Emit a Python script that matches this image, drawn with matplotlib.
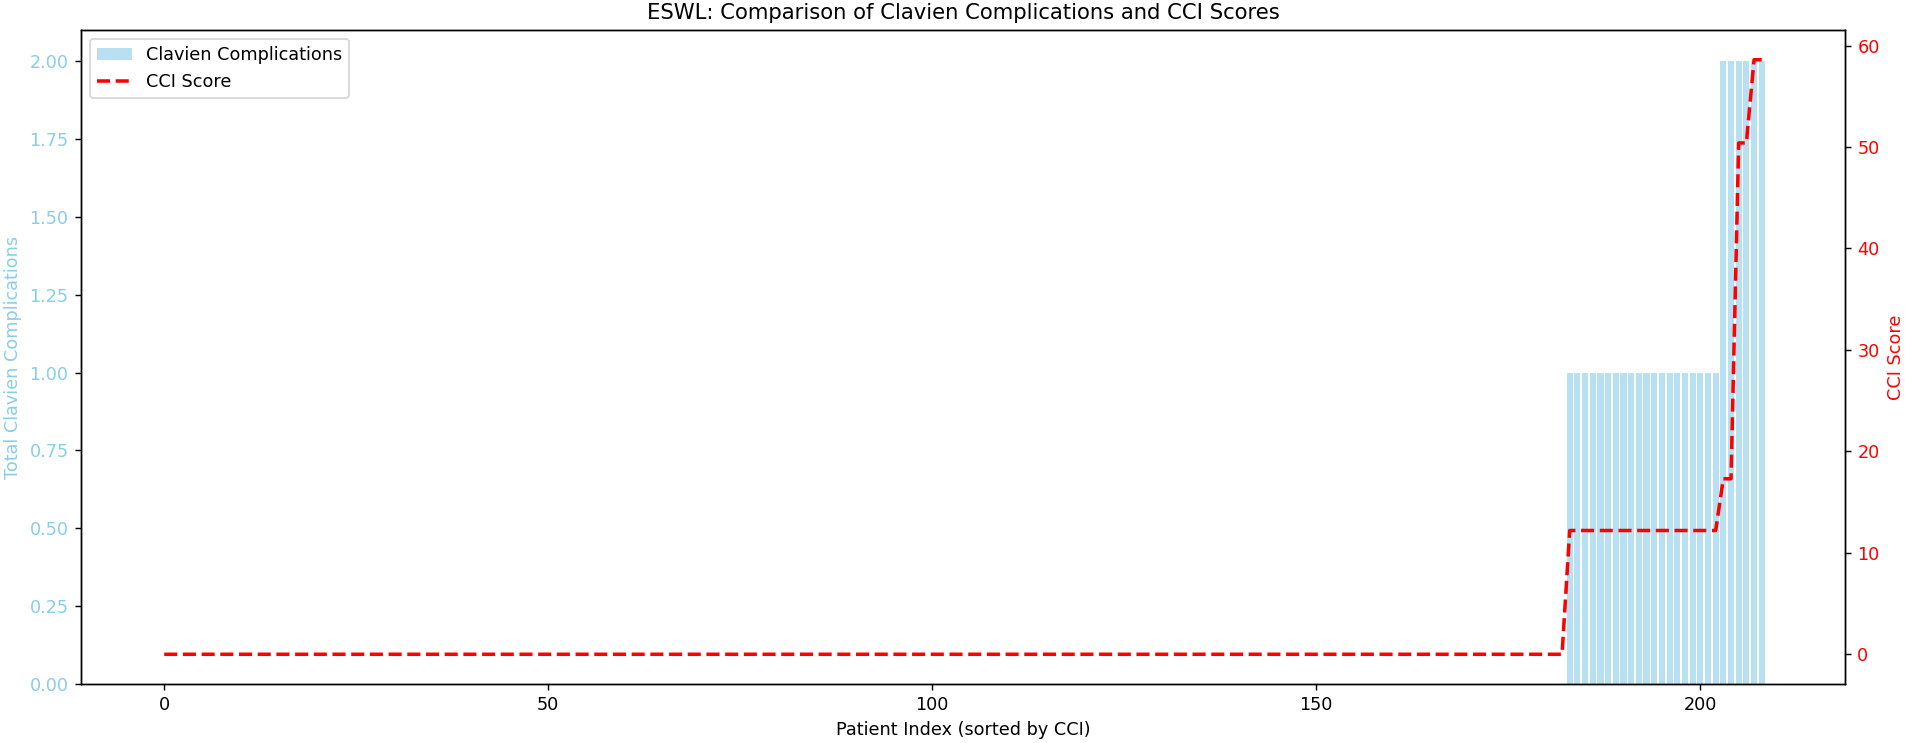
import numpy as np
import matplotlib
matplotlib.use("Agg")
import matplotlib.pyplot as plt

# Donnees (patients tries par CCI)
n_patients = 209
complication_groups = [(0, 183, 0), (183, 203, 1), (203, 209, 2)]  # (debut, fin, nb complications)
cci_groups = [(0, 183, 0.0), (183, 203, 12.2), (203, 205, 17.3), (205, 207, 50.4), (207, 209, 58.6)]

clavien_total = np.zeros(n_patients)
for a, b, v in complication_groups:
    clavien_total[a:b] = v
cci_score = np.zeros(n_patients)
for a, b, v in cci_groups:
    cci_score[a:b] = v
patient_idx = np.arange(n_patients)

fig = plt.figure(figsize=(1905 / 127, 743 / 127), dpi=127)
ax1 = fig.add_axes([0.0425, 0.0794, 0.926, 0.8802])

bars = ax1.bar(patient_idx, clavien_total, color="skyblue", alpha=0.6, label="Clavien Complications")
ax1.set_ylabel("Total Clavien Complications", color="skyblue")
ax1.tick_params(axis="y", labelcolor="skyblue")
ax1.set_xlabel("Patient Index (sorted by CCI)")

ax2 = ax1.twinx()
line, = ax2.plot(patient_idx, cci_score, color="red", linestyle="--", linewidth=2, label="CCI Score")
ax2.set_ylabel("CCI Score", color="red")
ax2.tick_params(axis="y", labelcolor="red")

ax1.legend([bars, line], ["Clavien Complications", "CCI Score"], loc="upper left")
ax1.set_title("ESWL: Comparison of Clavien Complications and CCI Scores")

fig.savefig("out.png", dpi=127)
